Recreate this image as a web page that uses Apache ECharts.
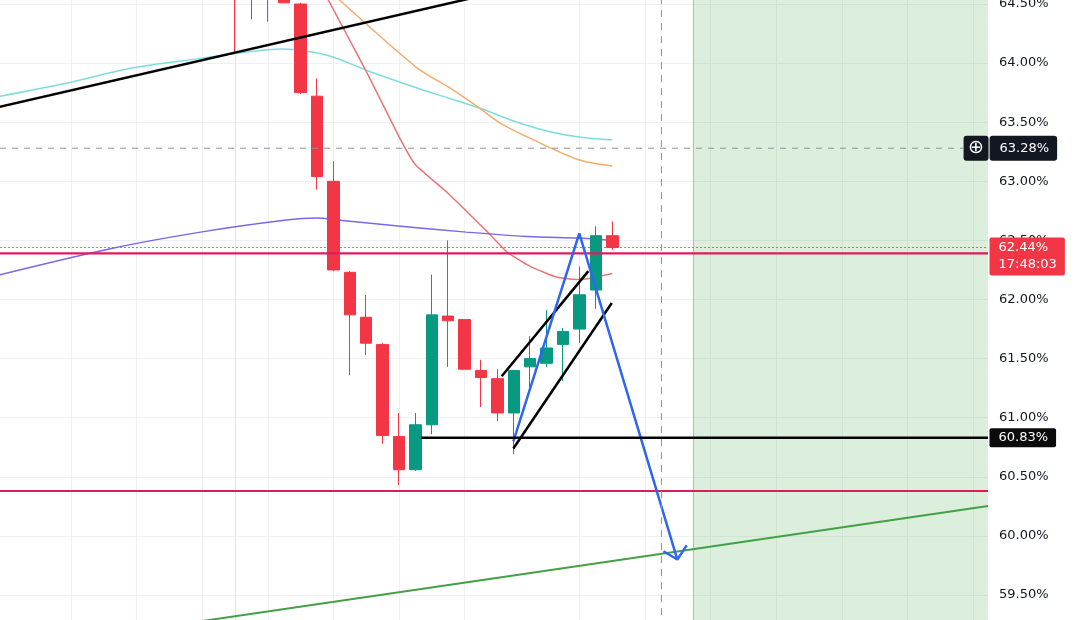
<!DOCTYPE html>
<html>
<head>
<meta charset="utf-8">
<script src="https://cdn.jsdelivr.net/npm/echarts@6/dist/echarts.min.js"></script>
<style>
html,body{margin:0;padding:0;background:#fff;}
#c{width:1076px;height:620px;}
</style>
</head>
<body>
<div id="c"></div>
<script>
// ---- axes ----
const xMin = -14.33, xMax = 45.91;          // candle-index range visible
const yMin = 59, yMax = 65, yStep = 0.5;     // price axis (%)
const xGrid = [-10, -6, -2, 2, 6, 10, 14, 21, 25, 29, 33, 37, 41, 45];

// ---- candles: [index, open, close, low, high] ----
const candles = [
  [0, 64.95, 64.75, 64.09, 65.10],
  [1, 64.75, 64.95, 64.37, 65.05],
  [2, 64.95, 64.80, 64.35, 65.00],
  [3, 64.80, 64.51, 64.51, 64.90],
  [4, 64.50, 63.75, 63.74, 64.51],
  [5, 63.72, 63.04, 62.93, 63.87],
  [6, 63.00, 62.25, 62.24, 63.17],
  [7, 62.23, 61.87, 61.36, 62.24],
  [8, 61.85, 61.63, 61.53, 62.04],
  [9, 61.62, 60.85, 60.78, 61.63],
  [10, 60.84, 60.56, 60.43, 61.04],
  [11, 60.56, 60.94, 60.55, 61.04],
  [12, 60.94, 61.87, 60.86, 62.21],
  [13, 61.86, 61.82, 61.43, 62.50],
  [14, 61.83, 61.41, 61.41, 61.83],
  [15, 61.40, 61.34, 61.09, 61.49],
  [16, 61.33, 61.04, 60.97, 61.41],
  [17, 61.04, 61.40, 60.69, 61.40],
  [18, 61.43, 61.50, 61.25, 61.69],
  [19, 61.46, 61.59, 61.43, 61.91],
  [20, 61.62, 61.73, 61.31, 61.76],
  [21, 61.75, 62.04, 61.63, 62.28],
  [22, 62.08, 62.54, 61.92, 62.62],
  [23, 62.54, 62.44, 62.42, 62.66]
];

// ---- moving averages: [index, value] ----
const maCyan = [[-14.33,63.72],[-10.3,63.83],[-6.2,63.96],[-2.1,64.04],[-0.1,64.08],[2.9,64.12],[4.4,64.10],[6.0,64.05],[8.0,63.94],[11.1,63.79],[13.1,63.70],[14.9,63.62],[17.2,63.50],[19.2,63.42],[21.2,63.37],[23.0,63.35]];
const maOrange = [[5.2,64.69],[6.4,64.53],[11.1,63.96],[13.1,63.79],[14.9,63.62],[16.2,63.49],[18.2,63.35],[21.0,63.18],[23.0,63.13]];
const maRed = [[5.2,64.66],[5.7,64.53],[8.0,63.93],[10.1,63.35],[11.0,63.14],[12.9,62.91],[15.4,62.57],[16.6,62.40],[18.0,62.28],[19.6,62.19],[20.8,62.17],[21.7,62.18],[23.0,62.22]];
const maPurple = [[-14.33,62.21],[-7.6,62.43],[-2.1,62.57],[3.0,62.67],[5.0,62.69],[6.4,62.67],[10.1,62.62],[14.1,62.57],[18.2,62.53],[20.9,62.52],[23.0,62.50]];

// ---- drawings ----
const trendBlack = [[-15, 63.61], [16, 64.60]];
const channelUpper = [[16.26, 61.35], [21.54, 62.24]];
const channelLower = [[16.97, 60.74], [22.97, 61.97]];
const bluePath = [[16.97, 60.80], [20.99, 62.56], [26.97, 59.80]];
const blueArrow = [[26.12, 59.87], [26.97, 59.80], [27.54, 59.92]];
const trendGreen = [[-5.18, 59.215], [45.91, 60.253]];
const upperLevel = 62.39, lowerLevel = 60.38;
const supportPrice = 60.83, supportStart = 11.34;
const lastPrice = 62.44, countdown = '17:48:03';
const crossX = 26, crossPrice = 63.28, crossEnd = 44.39;
const zoneStart = 27.93;

const FONT = 'DejaVu Sans';
const chart = echarts.init(document.getElementById('c'));

function seg(name, data, color, width, type, z, extra) {
  return Object.assign({
    name: name, type: 'line', data: data, showSymbol: false, symbol: 'none',
    silent: true, animation: false, z: z,
    emphasis: {disabled: true},
    lineStyle: {color: color, width: width, type: type || 'solid'}
  }, extra || {});
}
function ma(name, data, color, sm) {
  return seg(name, data, color, 1.5, 'solid', 2, {smooth: sm});
}

const option = {
  backgroundColor: '#ffffff',
  animation: false,
  grid: {left: 0, right: 88, top: -55.1, bottom: -34.1, containLabel: false, outerBoundsMode: 'none'},
  xAxis: {type: 'value', min: xMin, max: xMax, show: false, splitLine: {show: false}},
  yAxis: {
    type: 'value', position: 'right', min: yMin, max: yMax, interval: yStep,
    axisLine: {show: true, lineStyle: {color: '#e0e3eb', width: 1}},
    axisTick: {show: false},
    splitLine: {show: true, lineStyle: {color: '#eef0f5', width: 1}},
    axisLabel: {
      margin: 11, color: '#131722', fontSize: 13, fontFamily: FONT,
      formatter: function (v) { return v.toFixed(2) + '%'; }
    }
  },
  series: [
    {
      name: 'grid', type: 'line', data: [], silent: true, animation: false,
      markLine: {
        silent: true, symbol: 'none', z: 0, animation: false, label: {show: false},
        lineStyle: {color: '#eef0f5', width: 1, type: 'solid'},
        data: xGrid.map(function (v) { return {xAxis: v}; })
      },
      markArea: {
        silent: true, z: 1, animation: false,
        itemStyle: {color: 'rgba(76,175,80,0.2)'},
        data: [[{xAxis: zoneStart}, {xAxis: xMax}]]
      }
    },
    {
      name: 'zoneEdge', type: 'line', data: [], silent: true, animation: false,
      markLine: {
        silent: true, symbol: 'none', z: 1, animation: false, label: {show: false},
        lineStyle: {color: 'rgba(76,175,80,0.5)', width: 1, type: 'solid'},
        data: [{xAxis: zoneStart}]
      }
    },
    ma('maCyan', maCyan, '#7fdcdc', 0.3),
    ma('maOrange', maOrange, '#f4ad6a', 0.3),
    ma('maRed', maRed, '#ec7476', 0.15),
    ma('maPurple', maPurple, '#7668ea', 0.3),
    {
      name: 'price', type: 'candlestick', data: candles, encode: {x: 0, y: [1, 2, 3, 4]},
      barWidth: 12, silent: true, animation: false, z: 2,
      itemStyle: {color: '#089981', color0: '#f23645', borderColor: '#089981', borderColor0: '#f23645', borderWidth: 1}
    },
    seg('upperLevel', [[xMin, upperLevel], [xMax, upperLevel]], '#dc1c5c', 2.2, 'solid', 3),
    seg('lowerLevel', [[xMin, lowerLevel], [xMax, lowerLevel]], '#dc1c5c', 2, 'solid', 3),
    seg('trendBlack', trendBlack, '#000000', 2.5, 'solid', 3),
    seg('trendGreen', trendGreen, '#43a047', 2, 'solid', 3),
    seg('channelUpper', channelUpper, '#000000', 2.5, 'solid', 3),
    seg('channelLower', channelLower, '#000000', 2.5, 'solid', 3),
    seg('bluePath', bluePath, '#2f66f0', 2.5, 'solid', 3),
    seg('blueArrow', blueArrow, '#2f66f0', 2.5, 'solid', 3),
    seg('support', [[supportStart, supportPrice], [xMax, supportPrice]], '#000000', 2.5, 'solid', 3, {
      markPoint: {
        symbol: 'rect', symbolSize: 1, z: 6, animation: false, silent: true,
        itemStyle: {color: 'rgba(0,0,0,0)'},
        label: {
          show: true, position: 'right', distance: 1,
          formatter: supportPrice.toFixed(2) + '%',
          backgroundColor: '#0b0b0b', color: '#ffffff', fontFamily: FONT, fontSize: 13,
          lineHeight: 15, padding: [2, 8, 2, 9], borderRadius: 2
        },
        data: [{coord: [xMax, supportPrice]}]
      }
    }),
    seg('lastPrice', [[xMin, lastPrice], [xMax, lastPrice]], 'rgba(242,54,69,0.75)', 1, [2, 2], 3, {
      markPoint: {
        symbol: 'rect', symbolSize: 1, z: 6, animation: false, silent: true,
        itemStyle: {color: 'rgba(0,0,0,0)'},
        label: {
          show: true, position: 'right', distance: 1, offset: [0, 9],
          formatter: lastPrice.toFixed(2) + '%\n' + countdown,
          backgroundColor: '#f23645', color: '#ffffff', fontFamily: FONT, fontSize: 13,
          lineHeight: 17, padding: [2, 8, 2, 9], borderRadius: 2, align: 'left'
        },
        data: [{coord: [xMax, lastPrice]}]
      }
    }),
    seg('crossH', [[xMin, crossPrice], [crossEnd, crossPrice]], '#8f939e', 1, [6, 6], 3, {
      markPoint: {
        symbol: 'rect', symbolSize: 1, z: 6, animation: false, silent: true,
        itemStyle: {color: 'rgba(0,0,0,0)'},
        label: {
          show: true, position: 'right', distance: 0,
          formatter: '{ic|\u2295}{gp| }{v|' + crossPrice.toFixed(2) + '%}',
          rich: {
            ic: {backgroundColor: '#131722', color: '#ffffff', fontFamily: FONT, fontSize: 19,
                 width: 25, height: 25, lineHeight: 25, align: 'center', borderRadius: 3},
            gp: {width: 1, fontSize: 1, height: 25},
            v: {backgroundColor: '#131722', color: '#ffffff', fontFamily: FONT, fontSize: 13,
                height: 25, lineHeight: 25, padding: [0, 8, 0, 10], borderRadius: 3}
          }
        },
        data: [{coord: [crossEnd, crossPrice]}]
      }
    }),
    seg('crossV', [[crossX, yMin], [crossX, yMax]], '#8f939e', 1, [7, 6], 3)
  ]
};
chart.setOption(option);
</script>
</body>
</html>
